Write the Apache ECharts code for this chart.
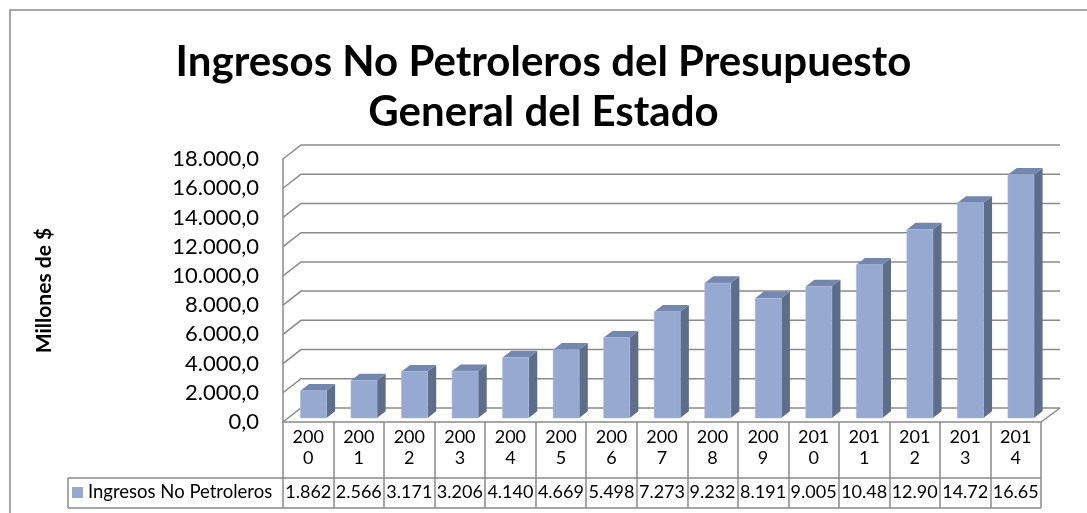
<!DOCTYPE html>
<html><head><meta charset="utf-8">
<script src="https://cdn.jsdelivr.net/npm/echarts@6/dist/echarts.min.js"></script>
<style>html,body{margin:0;padding:0;background:#fff}#c{width:1087px;height:513px}</style>
</head><body><div id="c"></div>
<script>
const categories = ['2000','2001','2002','2003','2004','2005','2006','2007','2008','2009','2010','2011','2012','2013','2014'];
const values = [1862, 2566, 3171, 3206, 4140, 4669, 5498, 7273, 9232, 8191, 9005, 10480, 12900, 14720, 16650];
const valueLabels = ['1.862','2.566','3.171','3.206','4.140','4.669','5.498','7.273','9.232','8.191','9.005','10.48','12.90','14.72','16.65'];
const yTicks = [0, 2000, 4000, 6000, 8000, 10000, 12000, 14000, 16000, 18000];
const seriesName = 'Ingresos No Petroleros';
const titleText = 'Ingresos No Petroleros del Presupuesto\nGeneral del Estado';
const yName = 'Millones de $';

const FONT = 'Lato, "Open Sans", sans-serif';
const GRAY = '#8a8a8a';
const DX = 18, DY = -14;
const FRONT = '#95A9D1', SIDE = '#5E6D8A', TOP = '#7286AE';

function fmtY(v) {
  return String(Math.round(v)).replace(/\B(?=(\d{3})+(?!\d))/g, '.') + ',0';
}

const chart = echarts.init(document.getElementById('c'), null, {renderer: 'canvas'});
chart.setOption({
  backgroundColor: '#fff',
  animation: false,
  textStyle: {fontFamily: FONT},
  title: {
    text: titleText,
    left: 'center',
    top: 37,
    padding: [0, 0, 0, 15],
    textStyle: {fontFamily: FONT, fontSize: 42, fontWeight: 'bold', color: '#000', lineHeight: 50}
  },
  legend: {
    data: [{name: seriesName, icon: 'rect'}],
    left: 72, top: 483,
    itemWidth: 11, itemHeight: 11, itemGap: 5, padding: 0,
    selectedMode: false,
    textStyle: {fontFamily: FONT, fontSize: 18.5, color: '#000'}
  },
  grid: {left: 283, top: 159, width: 758, height: 263, containLabel: false},
  xAxis: [{
    type: 'category', data: categories, boundaryGap: true,
    axisLine: {show: true, lineStyle: {color: GRAY, width: 1.5}},
    axisTick: {show: true, interval: 0, length: 86, lineStyle: {color: GRAY, width: 1.5}},
    axisLabel: {interval: 0, margin: 5, fontFamily: FONT, fontSize: 18, lineHeight: 21, color: '#000',
      formatter: v => v.slice(0, 3) + '\n' + v.slice(3)},
    splitLine: {show: false}
  }, {
    type: 'category', data: valueLabels, position: 'bottom', offset: 56, boundaryGap: true,
    axisLine: {show: false}, axisTick: {show: false},
    axisLabel: {interval: 0, margin: 5, fontFamily: FONT, fontSize: 18, color: '#000'},
    splitLine: {show: false}
  }],
  yAxis: {
    type: 'value', min: 0, max: 18000, interval: 2000,
    axisLine: {show: true, lineStyle: {color: GRAY, width: 1.5}},
    axisTick: {show: false},
    splitLine: {show: false},
    axisLabel: {margin: 24, fontFamily: FONT, fontSize: 22, color: '#000', formatter: fmtY},
    name: yName, nameLocation: 'middle', nameRotate: 90, nameGap: 228,
    nameTextStyle: {fontFamily: FONT, fontSize: 21, fontWeight: 'bold', color: '#000'}
  },
  graphic: [
    {type: 'polyline', silent: true, shape: {points: [[10, 513], [10, 10], [1087, 10]]}, style: {stroke: GRAY, lineWidth: 1.5, fill: null}},
    {type: 'line', silent: true, shape: {x1: 68, y1: 478, x2: 1041, y2: 478}, style: {stroke: GRAY, lineWidth: 1.5}},
    {type: 'line', silent: true, shape: {x1: 68, y1: 508, x2: 1041, y2: 508}, style: {stroke: GRAY, lineWidth: 1.5}},
    {type: 'line', silent: true, shape: {x1: 68, y1: 478, x2: 68, y2: 508}, style: {stroke: GRAY, lineWidth: 1.5}}
  ],
  series: [{
    type: 'custom', name: 'walls', silent: true, z: 1,
    data: yTicks.map(v => [0, v]),
    encode: {x: 0, y: 1},
    renderItem: function (params, api) {
      const cs = params.coordSys;
      const v = api.value(1);
      const y = api.coord([0, v])[1];
      const children = [{
        type: 'polyline',
        shape: {points: [[cs.x, y], [cs.x + DX, y + DY], [cs.x + cs.width + DX + 1, y + DY]]},
        style: {stroke: GRAY, lineWidth: 1.5, fill: null}
      }];
      if (v === 0) {
        children.push({type: 'line', shape: {x1: cs.x + cs.width, y1: y, x2: cs.x + cs.width + DX + 1, y2: y + DY},
          style: {stroke: GRAY, lineWidth: 1.5}});
      }
      return {type: 'group', children: children};
    }
  }, {
    type: 'custom', name: seriesName, z: 2,
    itemStyle: {color: FRONT},
    data: values.map((v, i) => [i, v]),
    encode: {x: 0, y: 1},
    renderItem: function (params, api) {
      const i = api.value(0), v = api.value(1);
      const top = api.coord([i, v]);
      const base = api.coord([i, 0]);
      const bw = api.size([1, 0])[0];
      const f0 = 0.29, f1 = 0.77;
      const ox = DX * f0, oy = DY * f0;
      const dx = DX * (f1 - f0), dy = DY * (f1 - f0);
      const w = bw * 0.515;
      const x0 = top[0] + ox - w / 2, x1 = x0 + w;
      const yT = top[1] + oy, yB = base[1] + oy;
      return {type: 'group', children: [
        {type: 'polygon', shape: {points: [[x1, yT], [x1 + dx, yT + dy], [x1 + dx, yB + dy], [x1, yB]]}, style: {fill: SIDE}},
        {type: 'polygon', shape: {points: [[x0, yT], [x0 + dx, yT + dy], [x1 + dx, yT + dy], [x1, yT]]}, style: {fill: TOP}},
        {type: 'rect', shape: {x: x0, y: yT, width: w, height: yB - yT}, style: {fill: FRONT, stroke: '#A9B9DA', lineWidth: 0.6}}
      ]};
    }
  }]
});
</script></body></html>
